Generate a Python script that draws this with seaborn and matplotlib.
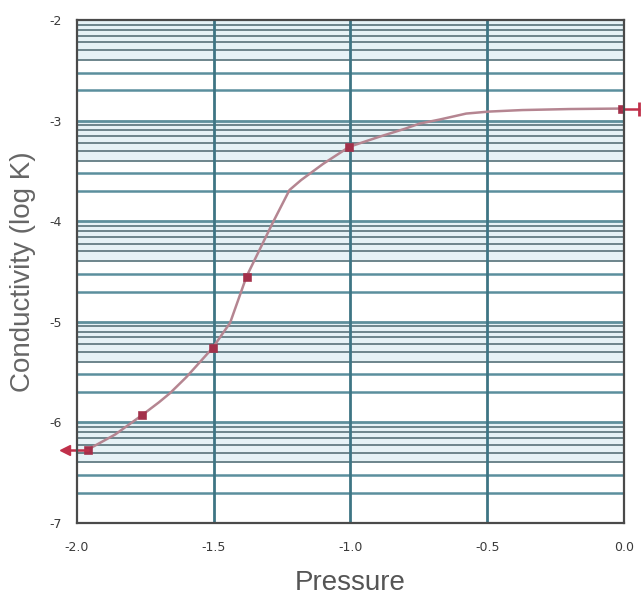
import numpy as np
import pandas as pd
import matplotlib
matplotlib.use("Agg")
import matplotlib.pyplot as plt
import seaborn as sns

# Curve traced through pressure (x) vs log conductivity (y)
curve_pressure = [-1.96, -1.86, -1.763, -1.70, -1.66, -1.60, -1.504, -1.44, -1.38,
                  -1.285, -1.223, -1.18, -1.10, -1.004, -0.894, -0.80, -0.748,
                  -0.675, -0.577, -0.493, -0.372, -0.20, -0.007]
curve_logk = [-6.27, -6.12, -5.93, -5.80, -5.71, -5.55, -5.26, -5.01, -4.55,
              -4.02, -3.69, -3.59, -3.43, -3.26, -3.16, -3.08, -3.03,
              -2.99, -2.93, -2.91, -2.895, -2.885, -2.88]

# Measured points shown with markers
point_pressure = [-1.96, -1.763, -1.504, -1.38, -1.004, -0.007]
point_logk = [-6.27, -5.93, -5.26, -4.55, -3.26, -2.88]

# Extension beyond the pressure range at both ends
left_end = [-2.045, -1.96]
left_end_logk = [-6.27, -6.27]
right_end = [-0.007, 0.055]
right_end_logk = [-2.88, -2.88]

x_ticks = [-2.0, -1.5, -1.0, -0.5, 0.0]
x_tick_labels = ["-2.0", "-1.5", "-1.0", "-0.5", "0.0"]
y_ticks = [-7, -6, -5, -4, -3, -2]
y_tick_labels = ["-7", "-6", "-5", "-4", "-3", "-2"]

sns.set_style("white")
plt.rcParams["font.family"] = ["DejaVu Sans"]

fig = plt.figure(figsize=(6.41, 5.96), dpi=100)
ax = fig.add_axes([0.120, 0.1225, 0.8535, 0.8439])
ax.set_xlim(-2.0, 0.0)
ax.set_ylim(-7, -2)

# Logarithmic grid: decade lines plus 2..9 subdivisions
for decade in range(-7, -2):
    ax.axhspan(decade + np.log10(4), decade + 1, color="#e6f2f6", zorder=0, lw=0)
    for k in range(1, 10):
        yv = decade + np.log10(k)
        if k == 1:
            ax.axhline(yv, color="#5e8f9c", lw=2.0, zorder=1)
        elif k in (2, 3):
            ax.axhline(yv, color="#5b8f9d", lw=1.8, zorder=1)
        else:
            ax.axhline(yv, color="#6d858c", lw=1.4, zorder=1)

for xv in [-1.5, -1.0, -0.5]:
    ax.axvline(xv, color="#3e7584", lw=2.0, zorder=2)

curve = pd.DataFrame({"pressure": curve_pressure, "logk": curve_logk})
sns.lineplot(data=curve, x="pressure", y="logk", ax=ax, color="#b58591",
             lw=1.8, sort=False, zorder=4)

pts = pd.DataFrame({"pressure": point_pressure, "logk": point_logk})
sns.scatterplot(data=pts, x="pressure", y="logk", ax=ax, marker="s", s=30,
                color="#a3304a", edgecolor="#a3304a", zorder=5)

ax.plot(left_end, left_end_logk, color="#c0304a", lw=1.8, clip_on=False, zorder=5)
ax.plot([left_end[0]], [left_end_logk[0]], marker="<", ms=7, color="#c0304a",
        clip_on=False, zorder=6)
ax.plot(right_end, right_end_logk, color="#c0304a", lw=1.8, clip_on=False, zorder=5)
ax.plot([right_end[1]], [right_end_logk[1]], marker="|", ms=10, mew=2,
        color="#c0304a", clip_on=False, zorder=6)

for side in ["left", "right", "bottom", "top"]:
    ax.spines[side].set_visible(True)
    ax.spines[side].set_color("#4a4a4a")
    ax.spines[side].set_linewidth(1.6)
    ax.spines[side].set_zorder(7)

ax.set_xticks(x_ticks)
ax.set_xticklabels(x_tick_labels)
ax.set_yticks(y_ticks)
ax.set_yticklabels(y_tick_labels)
ax.tick_params(axis="x", length=0, pad=13, labelsize=9, labelcolor="#3a3a3a")
ax.tick_params(axis="y", length=0, pad=11, labelsize=9, labelcolor="#3a3a3a")

ax.set_xlabel("Pressure", fontsize=20, color="#555555",
              family=["Liberation Sans", "DejaVu Sans"])
ax.set_ylabel("Conductivity (log K)", fontsize=20, color="#666666",
              family=["Liberation Sans", "DejaVu Sans"])
ax.xaxis.set_label_coords(0.5, -0.094)
ax.yaxis.set_label_coords(-0.075, 0.5)

fig.savefig("out.png", dpi=100, facecolor="white")
